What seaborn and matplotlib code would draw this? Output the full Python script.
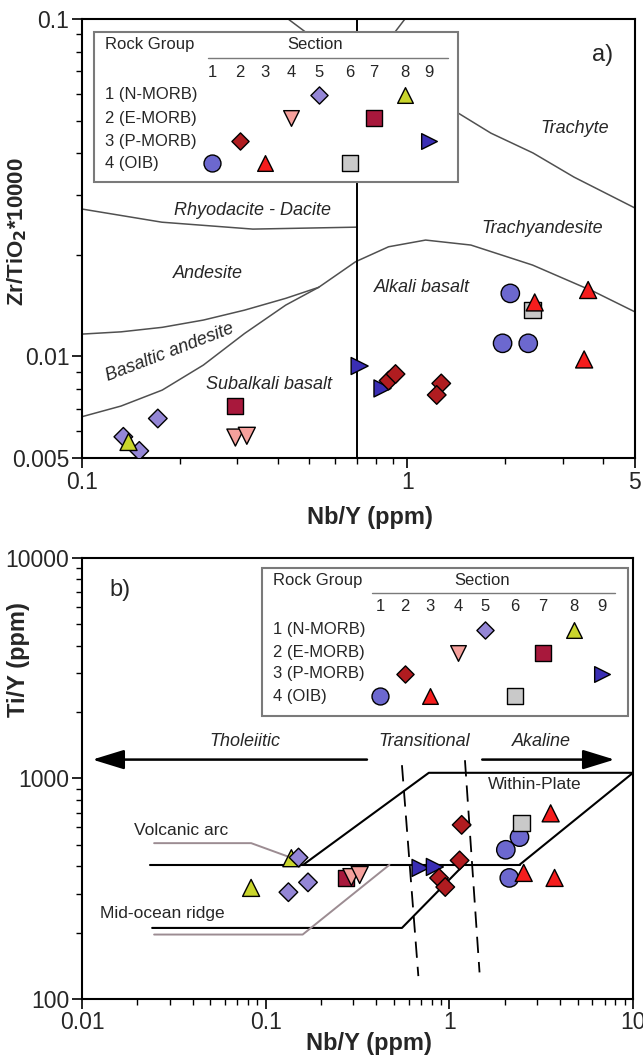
import matplotlib.pyplot as plt
import matplotlib.patches as mpatches
from matplotlib.ticker import FixedLocator, FixedFormatter, LogLocator, NullFormatter
import pandas as pd
import seaborn as sns

sns.set_theme(style="white")
plt.rcParams["font.family"] = ["Liberation Sans", "DejaVu Sans"]

# Sections 1-9: rock group, marker and colour
sections = [1, 2, 3, 4, 5, 6, 7, 8, 9]
section_group = [4, 3, 4, 2, 1, 4, 2, 1, 3]
section_marker = ["o", "D", "^", "v", "D", "s", "s", "^", ">"]
section_color = ["#6c68cf", "#b01c20", "#f51d1d", "#f5a09c", "#9486d6",
                 "#c9c9c9", "#a8183c", "#c9d52c", "#3a2eb4"]
section_size = [175, 90, 150, 150, 90, 140, 140, 150, 150]
group_labels = ["1 (N-MORB)", "2 (E-MORB)", "3 (P-MORB)", "4 (OIB)"]

# a) Nb/Y vs Zr/TiO2*10000
a_section = [5, 5, 5, 8, 7, 4, 4, 9, 9, 2, 2, 2, 2, 1, 1, 1, 6, 3, 3, 3]
a_nby = [0.134, 0.150, 0.171, 0.139, 0.295, 0.296, 0.321, 0.713, 0.838, 0.875,
         0.919, 1.27, 1.23, 2.07, 1.96, 2.35, 2.42, 2.46, 3.59, 3.49]
a_zrti = [0.00578, 0.00525, 0.00655, 0.00558, 0.00714, 0.00575, 0.00582, 0.00937,
          0.00804, 0.00848, 0.00887, 0.00832, 0.00769, 0.01538, 0.01094, 0.01094,
          0.01372, 0.01446, 0.01574, 0.0098]

# a) field boundaries
rhyo_x = [0.1, 0.176, 0.335, 0.70]
rhyo_y = [0.02735, 0.0250, 0.02385, 0.02417]
trachyte_x = [1.093, 1.429, 1.805, 2.43, 3.25, 5.0]
trachyte_y = [0.0608, 0.0527, 0.0459, 0.0401, 0.0340, 0.02754]
andesite_x = [0.1, 0.1318, 0.1764, 0.236, 0.3159, 0.4227, 0.5336]
andesite_y = [0.01165, 0.01183, 0.0122, 0.01282, 0.01372, 0.01487, 0.01603]
basalt_x = [0.1, 0.1318, 0.1764, 0.236, 0.3159, 0.4227, 0.5336]
basalt_y = [0.00663, 0.00713, 0.00795, 0.00943, 0.0117, 0.0142, 0.01603]
hump_x = [0.5336, 0.6935, 0.8748, 1.137, 1.566, 2.423, 3.749, 4.99]
hump_y = [0.01603, 0.0191, 0.02114, 0.02213, 0.02139, 0.01866, 0.01555, 0.01357]
top_left_x = [0.430, 0.55]
top_right_x = [0.982, 0.853]
top_seg_y = [0.1, 0.0837]
split_nby = 0.7

# b) Nb/Y vs Ti/Y
b_section = [8, 8, 5, 5, 5, 7, 4, 4, 9, 9, 2, 2, 2, 2, 1, 1, 1, 6, 3, 3, 3]
b_nby = [0.0833, 0.138, 0.133, 0.170, 0.151, 0.274, 0.293, 0.325, 0.697, 0.834,
         1.167, 1.137, 0.879, 0.950, 2.41, 2.03, 2.12, 2.47, 3.56, 2.54, 3.74]
b_tiy = [319, 435, 305, 338, 438, 354, 357, 365, 393, 397, 616, 425, 354, 322,
         542, 475, 354, 627, 695, 373, 354]

# b) field boundaries
arc_x = [0.0235, 2.41]
arc_y = [406, 406]
wp_x = [0.16, 0.773, 10]
wp_y = [406, 1061, 1061]
wp2_x = [2.41, 10]
wp2_y = [406, 1061]
mor_x = [0.0241, 0.552, 1.2]
mor_y = [210, 210, 406]
trans1_x = [0.552, 0.678]
trans1_y = [1149, 127]
trans2_x = [1.216, 1.46]
trans2_y = [1210, 132]
arc_ptr_x = [0.0247, 0.0834, 0.140]
arc_ptr_y = [509, 509, 435]
mor_ptr_x = [0.0247, 0.159, 0.472]
mor_ptr_y = [196, 196, 406]
arrow_y = 1218

palette = dict(zip(sections, section_color))
markers = dict(zip(sections, section_marker))
sizes = dict(zip(sections, section_size))

fig = plt.figure(figsize=(6.43, 10.64), dpi=100)
ax1 = fig.add_axes([0.1275, 0.5695, 0.860, 0.4126])
ax2 = fig.add_axes([0.1275, 0.0611, 0.857, 0.4145])


def style_axes(ax):
    ax.set_xscale("log")
    ax.set_yscale("log")
    for sp in ax.spines.values():
        sp.set_color("black")
        sp.set_linewidth(1.5)
    ax.tick_params(which="major", direction="out", length=7, width=1.2,
                   labelsize=16.5, pad=2, color="black", left=True, bottom=True)
    ax.tick_params(which="minor", direction="out", length=4, width=1.0,
                   color="black", left=True, bottom=True)
    ax.grid(False)


def draw_key(ax, box, rock_x, head_y, sec_x, rule, num_y, col_x, row_y):
    ax.add_patch(mpatches.Rectangle((box[0], box[1]), box[2], box[3],
                                    transform=ax.transAxes, facecolor="white",
                                    edgecolor="#7a7a7a", lw=1.5, zorder=5))
    ax.text(rock_x, head_y, "Rock Group", transform=ax.transAxes, fontsize=12,
            va="center", ha="left", zorder=6)
    ax.text(sec_x, head_y, "Section", transform=ax.transAxes, fontsize=12,
            va="center", ha="center", zorder=6)
    ax.plot([rule[0], rule[1]], [rule[2], rule[2]], transform=ax.transAxes,
            color="#7a7a7a", lw=1.0, zorder=6)
    for s, cx in zip(sections, col_x):
        ax.text(cx, num_y, str(s), transform=ax.transAxes, fontsize=12,
                va="center", ha="center", zorder=6)
    for label, ry in zip(group_labels, row_y):
        ax.text(rock_x, ry, label, transform=ax.transAxes, fontsize=12,
                va="center", ha="left", zorder=6)
    for s, g in zip(sections, section_group):
        ax.scatter(col_x[s - 1], row_y[g - 1], transform=ax.transAxes,
                   marker=markers[s], s=sizes[s] * 0.85, c=palette[s],
                   edgecolors="black", linewidths=1.0, zorder=7, clip_on=False)


# ---------- panel a ----------
style_axes(ax1)
line_kw = dict(color="#505050", lw=1.1, zorder=2)
ax1.plot(rhyo_x, rhyo_y, **line_kw)
ax1.plot(trachyte_x, trachyte_y, **line_kw)
ax1.plot(andesite_x, andesite_y, **line_kw)
ax1.plot(basalt_x, basalt_y, **line_kw)
ax1.plot(hump_x, hump_y, **line_kw)
ax1.plot(top_left_x, top_seg_y, **line_kw)
ax1.plot(top_right_x, top_seg_y, **line_kw)
ax1.axvline(split_nby, color="black", lw=1.4, zorder=2)

df_a = pd.DataFrame({"nby": a_nby, "ratio": a_zrti, "section": a_section})
sns.scatterplot(data=df_a, x="nby", y="ratio", hue="section", style="section",
                size="section", palette=palette, markers=markers, sizes=sizes,
                edgecolor="black", linewidth=1.0, legend=False, ax=ax1, zorder=4)

ax1.set_xlim(0.1, 5)
ax1.set_ylim(0.005, 0.1)
ax1.xaxis.set_major_locator(FixedLocator([0.1, 1, 5]))
ax1.xaxis.set_major_formatter(FixedFormatter(["0.1", "1", "5"]))
ax1.xaxis.set_minor_locator(LogLocator(base=10, subs=range(2, 10)))
ax1.xaxis.set_minor_formatter(NullFormatter())
ax1.yaxis.set_major_locator(FixedLocator([0.005, 0.01, 0.1]))
ax1.yaxis.set_major_formatter(FixedFormatter(["0.005", "0.01", "0.1"]))
ax1.yaxis.set_minor_locator(LogLocator(base=10, subs=range(2, 10)))
ax1.yaxis.set_minor_formatter(NullFormatter())

ax1.set_xlabel("Nb/Y (ppm)", fontsize=17, fontweight="bold")
ax1.set_ylabel("Zr/TiO$_\\mathbf{2}$*10000", fontsize=16, fontweight="bold")
ax1.xaxis.set_label_coords(0.52, -0.11)
ax1.yaxis.set_label_coords(-0.095, 0.515)

it = dict(fontsize=13, style="italic", ha="center", va="center", zorder=3)
ax1.text(3.27, 0.0475, "Trachyte", **it)
ax1.text(0.333, 0.0270, "Rhyodacite - Dacite", **it)
ax1.text(2.59, 0.0240, "Trachyandesite", **it)
ax1.text(0.244, 0.01766, "Andesite", **it)
ax1.text(1.108, 0.01606, "Alkali basalt", **it)
ax1.text(0.186, 0.0103, "Basaltic andesite", rotation=21, **it)
ax1.text(0.375, 0.00828, "Subalkali basalt", **it)
ax1.text(0.942, 0.918, "a)", transform=ax1.transAxes, fontsize=17,
         ha="center", va="center")

draw_key(ax1, (0.022, 0.629, 0.658, 0.341), 0.042, 0.941, 0.421,
         (0.227, 0.662, 0.911), 0.879,
         [0.235, 0.286, 0.331, 0.378, 0.429, 0.484, 0.528, 0.584, 0.627],
         [0.827, 0.774, 0.722, 0.672])

# ---------- panel b ----------
style_axes(ax2)
blk = dict(color="black", lw=1.5, zorder=2)
ax2.plot(arc_x, arc_y, **blk)
ax2.plot(wp_x, wp_y, **blk)
ax2.plot(wp2_x, wp2_y, **blk)
ax2.plot(mor_x, mor_y, **blk)
ax2.plot(trans1_x, trans1_y, color="black", lw=1.3, ls=(0, (9, 5)), zorder=2)
ax2.plot(trans2_x, trans2_y, color="black", lw=1.3, ls=(0, (9, 5)), zorder=2)
ax2.plot(arc_ptr_x, arc_ptr_y, color="#9c8c92", lw=1.4, zorder=2)
ax2.plot(mor_ptr_x, mor_ptr_y, color="#9c8c92", lw=1.4, zorder=2)

arrow_kw = dict(arrowstyle="-|>,head_length=1.3,head_width=0.4", color="black",
                lw=1.8, mutation_scale=15, shrinkA=0, shrinkB=0)
ax2.annotate("", xy=(0.0114, arrow_y), xytext=(0.356, arrow_y),
             arrowprops=arrow_kw, zorder=3)
ax2.annotate("", xy=(7.93, arrow_y), xytext=(1.51, arrow_y),
             arrowprops=arrow_kw, zorder=3)

df_b = pd.DataFrame({"nby": b_nby, "tiy": b_tiy, "section": b_section})
sns.scatterplot(data=df_b, x="nby", y="tiy", hue="section", style="section",
                size="section", palette=palette, markers=markers, sizes=sizes,
                edgecolor="black", linewidth=1.0, legend=False, ax=ax2, zorder=4)

ax2.set_xlim(0.01, 10)
ax2.set_ylim(100, 10000)
ax2.xaxis.set_major_locator(FixedLocator([0.01, 0.1, 1, 10]))
ax2.xaxis.set_major_formatter(FixedFormatter(["0.01", "0.1", "1", "10"]))
ax2.xaxis.set_minor_locator(LogLocator(base=10, subs=range(2, 10)))
ax2.xaxis.set_minor_formatter(NullFormatter())
ax2.yaxis.set_major_locator(FixedLocator([100, 1000, 10000]))
ax2.yaxis.set_major_formatter(FixedFormatter(["100", "1000", "10000"]))
ax2.yaxis.set_minor_locator(LogLocator(base=10, subs=range(2, 10)))
ax2.yaxis.set_minor_formatter(NullFormatter())

ax2.set_xlabel("Nb/Y (ppm)", fontsize=17, fontweight="bold")
ax2.set_ylabel("Ti/Y (ppm)", fontsize=17, fontweight="bold")
ax2.xaxis.set_label_coords(0.52, -0.075)
ax2.yaxis.set_label_coords(-0.095, 0.77)

ax2.text(0.077, 1466, "Tholeiitic", **it)
ax2.text(0.728, 1466, "Transitional", **it)
ax2.text(3.19, 1466, "Akaline", **it)
nt = dict(fontsize=12.5, ha="left", va="center", zorder=3)
ax2.text(1.63, 935, "Within-Plate", **nt)
ax2.text(0.0192, 583, "Volcanic arc", **nt)
ax2.text(0.01253, 245, "Mid-ocean ridge", **nt)
ax2.text(0.069, 0.927, "b)", transform=ax2.transAxes, fontsize=17,
         ha="center", va="center")

draw_key(ax2, (0.327, 0.642, 0.663, 0.335), 0.347, 0.950, 0.726,
         (0.526, 0.967, 0.921), 0.889,
         [0.541, 0.586, 0.632, 0.682, 0.731, 0.786, 0.837, 0.893, 0.944],
         [0.837, 0.785, 0.737, 0.687])

fig.savefig("out.png", dpi=100)
